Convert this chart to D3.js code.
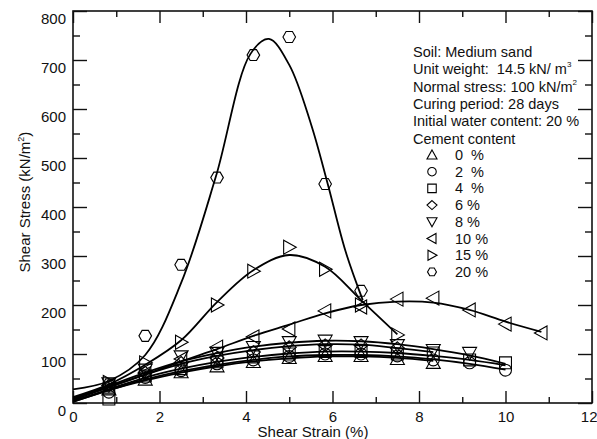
<!DOCTYPE html>
<html>
<head>
<meta charset="utf-8">
<script src="https://cdn.jsdelivr.net/npm/d3@7"></script>
<style>
  body { margin: 0; background: #fff; }
  text { font-family: Arial, "Liberation Sans", sans-serif; fill: #111; }
</style>
</head>
<body>
<div id="shear-chart"></div>
<script>
// measured strain steps (%)
const strainSteps = [0.83, 1.67, 2.5, 3.33, 4.17, 5.0, 5.83, 6.66, 7.5, 8.33, 9.17, 10.0, 10.83];

// measured shear stress (kN/m2) per cement content
const stress0  = [28, 48, 63, 75, 84, 92, 96, 96, 90, 82];
const stress2  = [22, 52, 66, 80, 88, 95, 100, 100, 96, 88, 82, 67];
const stress4  = [8, 55, 70, 84, 94, 100, 105, 105, 100, 102, 88, 82];
const stress6  = [35, 62, 82, 92, 104, 114, 118, 118, 112];
const stress8  = [40, 68, 95, 102, 114, 124, 127, 124, 118, 108, 102];
const stress10 = [35, 60, 90, 114, 135, 151, 188, 196, 212, 214, 190, 161, 143];
const stress15 = [42, 82, 124, 200, 269, 318, 273, 200, 139];
const stress20 = [38, 137, 282, 460, 710, 747, 447, 229];

// fitted curves
const fitStrain = [0, 0.83, 1.67, 2.5, 3.33, 4.17, 5.0, 5.83, 6.66, 7.5, 8.33, 9.17, 10.0, 10.83];
const fit0  = [2, 26, 46, 62, 75, 85, 91, 95, 95, 92, 86];
const fit2  = [3, 26, 48, 65, 78, 88, 95, 98, 98, 95, 89, 80, 68];
const fit4  = [4, 28, 52, 70, 84, 94, 101, 105, 105, 102, 96, 88, 77];
const fit6  = [6, 32, 58, 80, 96, 108, 116, 120, 119, 112, 104];
const fit8  = [8, 35, 62, 85, 102, 115, 123, 127, 126, 120, 110, 97, 80];
const fit10 = [10, 33, 58, 85, 110, 137, 160, 183, 200, 207, 205, 190, 166, 145];
const fit15 = [12, 38, 78, 128, 206, 271, 302, 278, 210, 140];
const fit20Strain = [0, 0.83, 1.67, 2.5, 3.3, 4.1, 4.53, 5.0, 5.5, 5.89, 6.3, 6.7];
const fit20 = [28, 45, 98, 245, 461, 712, 743, 690, 570, 447, 310, 210];

const cementLabels = ['0  %', '2  %', '4  %', '6 %', '8 %', '10 %', '15 %', '20 %'];
const markerShapes = ['triUp', 'circle', 'square', 'diamond', 'triDown', 'triLeft', 'triRight', 'hexagon'];
const xTicks = [0, 2, 4, 6, 8, 10, 12];
const yTicks = [0, 100, 200, 300, 400, 500, 600, 700, 800];
const notes = ['Soil: Medium sand', 'Unit weight:  14.5 kN/ m', 'Normal stress: 100 kN/m',
  'Curing period: 28 days', 'Initial water content: 20 %', 'Cement content'];
const noteSups = ['', '3', '2', '', '', ''];

const width = 597, height = 439;
const margin = {top: 11, left: 73, right: 5, bottom: 36};

const allStress = [stress0, stress2, stress4, stress6, stress8, stress10, stress15, stress20];
const allFits = [fit0, fit2, fit4, fit6, fit8, fit10, fit15, fit20];

// marker path for a shape, r is half size
function markerPath(shape, r) {
  const p = d3.path();
  const poly = pts => { p.moveTo(pts[0][0], pts[0][1]); pts.slice(1).forEach(q => p.lineTo(q[0], q[1])); p.closePath(); };
  if (shape === 'circle') { p.moveTo(r * 0.85, 0); p.arc(0, 0, r * 0.85, 0, 2 * Math.PI); }
  else if (shape === 'square') poly([[-r * 0.85, -r * 0.85], [r * 0.85, -r * 0.85], [r * 0.85, r * 0.85], [-r * 0.85, r * 0.85]]);
  else if (shape === 'diamond') poly([[0, -r * 0.9], [r, 0], [0, r * 0.9], [-r, 0]]);
  else if (shape === 'triUp') poly([[0, -r], [r, r * 0.8], [-r, r * 0.8]]);
  else if (shape === 'triDown') poly([[0, r], [r, -r * 0.8], [-r, -r * 0.8]]);
  else if (shape === 'triLeft') poly([[-r, 0], [r * 0.8, -r], [r * 0.8, r]]);
  else if (shape === 'triRight') poly([[r, 0], [-r * 0.8, -r], [-r * 0.8, r]]);
  else if (shape === 'hexagon') poly(d3.range(6).map(i => [r * 0.9 * Math.cos(i * Math.PI / 3), r * 0.9 * Math.sin(i * Math.PI / 3)]));
  return p.toString();
}

const svg = d3.select('#shear-chart').append('svg')
  .attr('width', width)
  .attr('height', height);

const x = d3.scaleLinear().domain([0, 12]).range([margin.left, width - margin.right]);
const y = d3.scaleLinear().domain([0, 800]).range([height - margin.bottom, margin.top]);

// Axes, ticks pointing inward on all four sides
function styleAxis(g) {
  g.select('.domain').remove();
  g.selectAll('line').attr('stroke', '#111').attr('stroke-width', 1.4);
  g.selectAll('text').attr('font-size', 15).style('font-family', 'Arial, "Liberation Sans", sans-serif');
}
const minorX = d3.range(1, 12, 2);
const minorY = d3.range(50, 800, 100);

const xAxis = svg.append('g').attr('transform', `translate(0,${y(0)})`)
  .call(d3.axisBottom(x).tickValues(xTicks).tickSizeInner(-12).tickSizeOuter(0).tickPadding(8)).call(styleAxis);
// keep the last label inside the page
xAxis.selectAll('text').filter(d => d === 12).attr('text-anchor', 'end').attr('dx', 5);
svg.append('g').attr('transform', `translate(0,${y(0)})`)
  .call(d3.axisBottom(x).tickValues(minorX).tickSizeInner(-6).tickSizeOuter(0).tickFormat('')).call(styleAxis);
svg.append('g').attr('transform', `translate(0,${y(800)})`)
  .call(d3.axisTop(x).tickValues(xTicks).tickSizeInner(-12).tickSizeOuter(0).tickFormat('')).call(styleAxis);
svg.append('g').attr('transform', `translate(0,${y(800)})`)
  .call(d3.axisTop(x).tickValues(minorX).tickSizeInner(-6).tickSizeOuter(0).tickFormat('')).call(styleAxis);

const yAxis = svg.append('g').attr('transform', `translate(${x(0)},0)`)
  .call(d3.axisLeft(y).tickValues(yTicks).tickSizeInner(-14).tickSizeOuter(0).tickPadding(7)).call(styleAxis);
yAxis.selectAll('text').attr('dy', '0.85em');
svg.append('g').attr('transform', `translate(${x(0)},0)`)
  .call(d3.axisLeft(y).tickValues(minorY).tickSizeInner(-7).tickSizeOuter(0).tickFormat('')).call(styleAxis);
svg.append('g').attr('transform', `translate(${x(12)},0)`)
  .call(d3.axisRight(y).tickValues(yTicks).tickSizeInner(-14).tickSizeOuter(0).tickFormat('')).call(styleAxis);
svg.append('g').attr('transform', `translate(${x(12)},0)`)
  .call(d3.axisRight(y).tickValues(minorY).tickSizeInner(-7).tickSizeOuter(0).tickFormat('')).call(styleAxis);

// frame
svg.append('rect')
  .attr('x', x(0)).attr('y', y(800))
  .attr('width', x(12) - x(0)).attr('height', y(0) - y(800))
  .attr('fill', 'none').attr('stroke', '#111').attr('stroke-width', 1.6);

// axis titles
svg.append('text')
  .attr('x', 313).attr('y', height - 2)
  .attr('text-anchor', 'middle').attr('font-size', 15)
  .text('Shear Strain (%)');
const yTitle = svg.append('text')
  .attr('transform', `translate(30,${y(410)}) rotate(-90)`)
  .attr('text-anchor', 'middle').attr('font-size', 15);
yTitle.append('tspan').text('Shear Stress (kN/m');
yTitle.append('tspan').attr('dy', -6).attr('font-size', 9).text('2');
yTitle.append('tspan').attr('dy', 6).text(')');

// fitted curves
const line = d3.line()
  .x(d => x(d[0]))
  .y(d => y(d[1]))
  .curve(d3.curveCatmullRom.alpha(0.5));

allFits.forEach((fit, i) => {
  const xs = i === 7 ? fit20Strain : fitStrain;
  svg.append('path')
    .datum(fit.map((v, j) => [xs[j], v]))
    .attr('d', line)
    .attr('fill', 'none')
    .attr('stroke', '#000')
    .attr('stroke-width', 1.8);
});

// measured points
allStress.forEach((series, i) => {
  svg.append('g')
    .selectAll('path')
    .data(series.map((v, j) => [strainSteps[j], v]))
    .enter().append('path')
      .attr('transform', d => `translate(${x(d[0])},${y(d[1])})`)
      .attr('d', markerPath(markerShapes[i], 7))
      .attr('fill', 'none')
      .attr('stroke', '#000')
      .attr('stroke-width', 1.1);
});

// notes and legend
const noteX = 413;
notes.forEach((t, i) => {
  const el = svg.append('text')
    .attr('x', noteX).attr('y', 57 + i * 17.3)
    .attr('font-size', 14.5)
    .style('white-space', 'pre')
    .text(t);
  if (noteSups[i]) el.append('tspan').attr('dy', -7).attr('font-size', 8).text(noteSups[i]);
});

cementLabels.forEach((lab, i) => {
  const cy = 155 + i * 16.7;
  svg.append('path')
    .attr('transform', `translate(432,${cy})`)
    .attr('d', markerPath(markerShapes[i], 5))
    .attr('fill', 'none')
    .attr('stroke', '#000')
    .attr('stroke-width', 1.1);
  svg.append('text')
    .attr('x', 455).attr('y', cy + 5)
    .attr('font-size', 14.5)
    .style('white-space', 'pre')
    .text(lab);
});
</script>
</body>
</html>
